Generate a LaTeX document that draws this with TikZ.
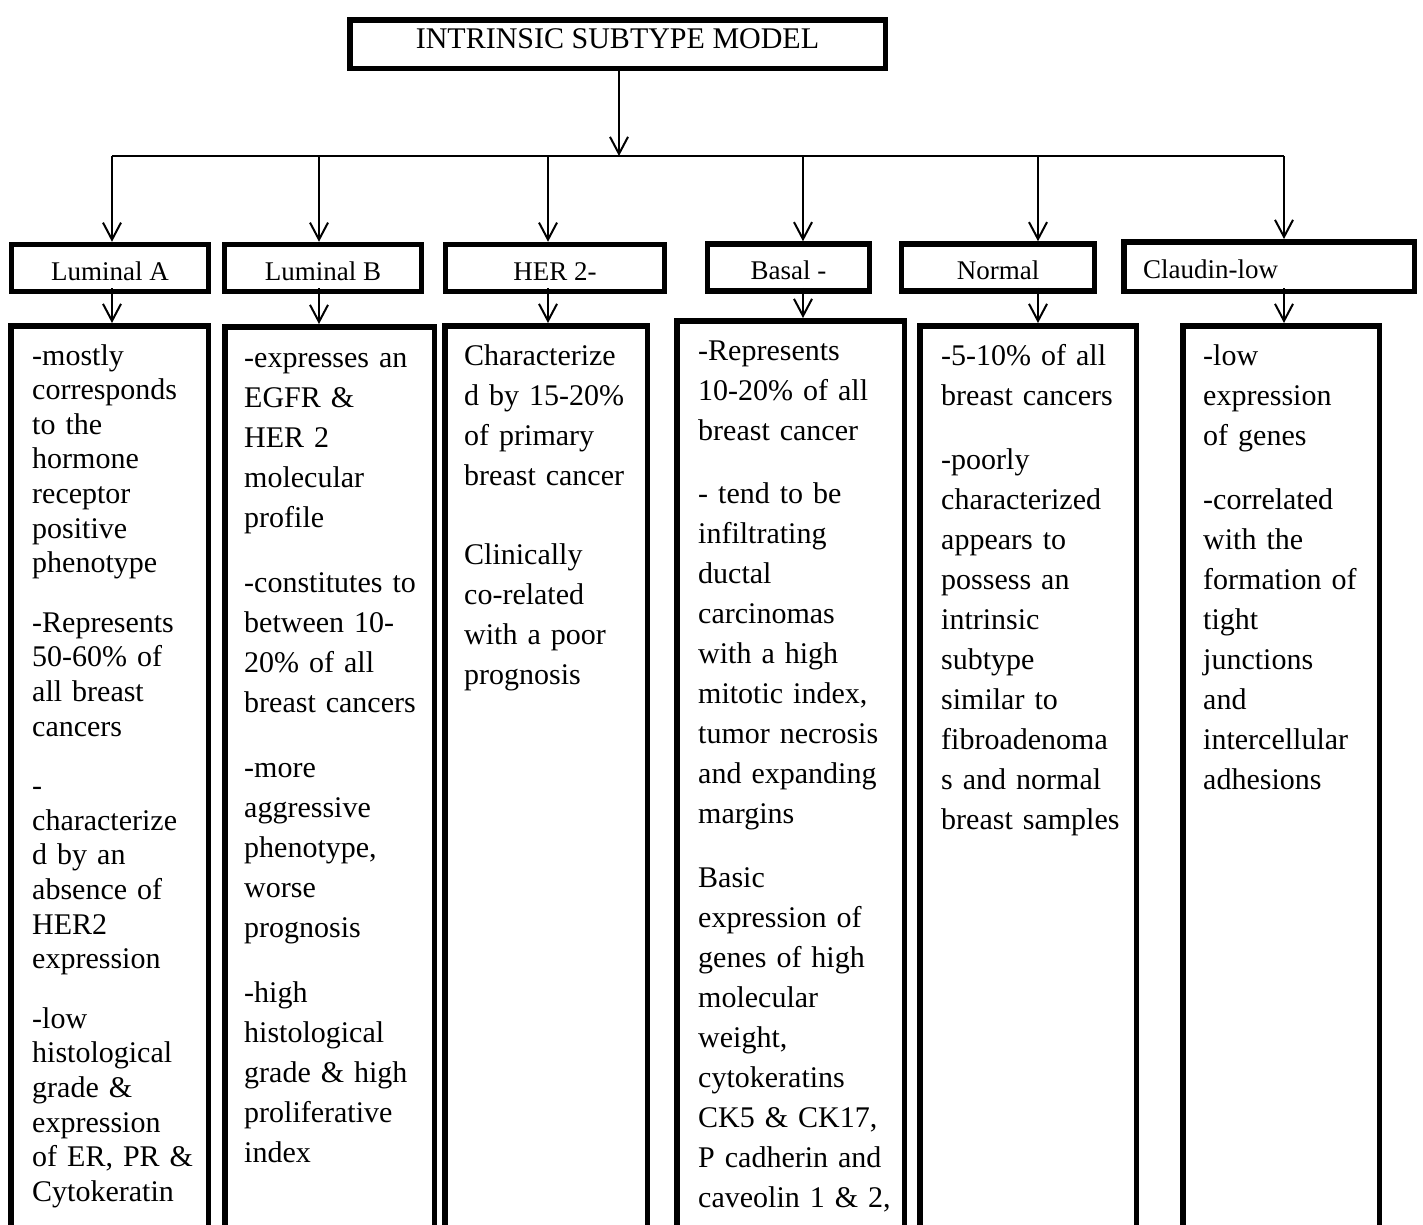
\documentclass[tikz,border=0pt]{standalone}
\usepackage{fontspec}
\setmainfont{Liberation Serif}
\usetikzlibrary{positioning,calc,arrows.meta}

\begin{document}
\begin{tikzpicture}[x=1pt,y=1pt]
    \tikzstyle{every node}=[rectangle,inner sep=0]
    \tikzstyle{heading}=[draw,line width=5.5,minimum width=535.5,minimum height=48.5,font=\fontsize{30}{36}\selectfont,text height=20,text depth=12]
    \tikzstyle{kind}=[draw,line width=5.5,minimum height=47,font=\fontsize{27}{32}\selectfont,text height=24,text depth=0]
    \tikzstyle{frame}=[draw,line width=5.5,minimum height=950,anchor=north west]
    \tikzstyle{body}=[anchor=base west,text width=205,align=left,font=\fontsize{30}{40}\selectfont]
    \tikzstyle{link}=[line width=2,-{Straight Barb[length=17pt,width=18pt]}]

    \path[use as bounding box,clip] (0,0) rectangle (1423,-1224);

    \node[heading] (model) at (617.5,-44) {INTRINSIC SUBTYPE MODEL};

    % subtypes
    \node[kind,minimum width=197] (lumA) at (110,-268) {Luminal A};
    \node[kind,minimum width=197] (lumB) at (323,-268) {Luminal B};
    \node[kind,minimum width=219] (her2) at (555,-268) {HER 2-};
    \node[kind,minimum width=162] (basal) at (788.5,-267.5) {Basal -};
    \node[kind,minimum width=193] (normal) at (998,-267.5) {Normal};
    \node[kind,minimum width=290.5,minimum height=49.5,text width=252,align=left] (claudin) at (1269,-266.5) {Claudin-low};

    % frames below the subtypes
    \foreach \name/\x/\y/\w in {lumA/8/323/197.5,lumB/222/324/209.5,her2/442/323/202.5,basal/674/318/227.5,normal/917/323/216.5,claudin/1180/323/196.5}
        \node[frame,minimum width=\w] (\name-box) at (\x,-\y) {};

    \node[body,font=\fontsize{30}{34.6}\selectfont] (lumA-txt) at ([xshift=24,yshift=-42]lumA-box.north west)
        {-mostly\\ corresponds\\ to the\\ hormone\\ receptor\\ positive\\ phenotype\\[25pt]
         -Represents\\ 50-60\% of\\ all breast\\ cancers\\[25pt]
         -\\ characterize\\ d by an\\ absence of\\ HER2\\ expression\\[25pt]
         -low\\ histological\\ grade \&\\ expression\\ of ER, PR \&\\ Cytokeratin};
    \node[body] (lumB-txt) at ([xshift=22,yshift=-43]lumB-box.north west)
        {-expresses an\\ EGFR \&\\ HER 2\\ molecular\\ profile\\[25pt]
         -constitutes to\\ between 10-\\ 20\% of all\\ breast cancers\\[25pt]
         -more\\ aggressive\\ phenotype,\\ worse\\ prognosis\\[25pt]
         -high\\ histological\\ grade \& high\\ proliferative\\ index};
    \node[body] (her2-txt) at ([xshift=22,yshift=-42]her2-box.north west)
        {Characterize\\ d by 15-20\%\\ of primary\\ breast cancer\\[39pt]
         Clinically\\ co-related\\ with a poor\\ prognosis};
    \node[body] (basal-txt) at ([xshift=24,yshift=-42]basal-box.north west)
        {-Represents\\ 10-20\% of all\\ breast cancer\\[23pt]
         - tend to be\\ infiltrating\\ ductal\\ carcinomas\\ with a high\\ mitotic index,\\ tumor necrosis\\ and expanding\\ margins\\[24pt]
         Basic\\ expression of\\ genes of high\\ molecular\\ weight,\\ cytokeratins\\ CK5 \& CK17,\\ P cadherin and\\ caveolin 1 \& 2,};
    \node[body] (normal-txt) at ([xshift=24,yshift=-42]normal-box.north west)
        {-5-10\% of all\\ breast cancers\\[24pt]
         -poorly\\ characterized\\ appears to\\ possess an\\ intrinsic\\ subtype\\ similar to\\ fibroadenoma\\ s and normal\\ breast samples};
    \node[body] (claudin-txt) at ([xshift=23,yshift=-42]claudin-box.north west)
        {-low\\ expression\\ of genes\\[24pt]
         -correlated\\ with the\\ formation of\\ tight\\ junctions\\ and\\ intercellular\\ adhesions};

    % connectors
    \coordinate (hub) at (619,-156);
    \draw[link] (model.south -| hub) -- (hub);
    \foreach \name/\x in {lumA/112,lumB/319,her2/548,basal/803,normal/1038,claudin/1284}
        \coordinate (k\name) at (\x,-156);
    \draw[line width=2] (klumA) -- (kclaudin);
    \foreach \name in {lumA,lumB,her2,basal,normal,claudin} {
        \draw[link] (k\name) -- (k\name |- \name.north);
        \draw[link] ([yshift=6]k\name |- \name.south) -- (k\name |- \name-box.north);
    }
\end{tikzpicture}
\end{document}
